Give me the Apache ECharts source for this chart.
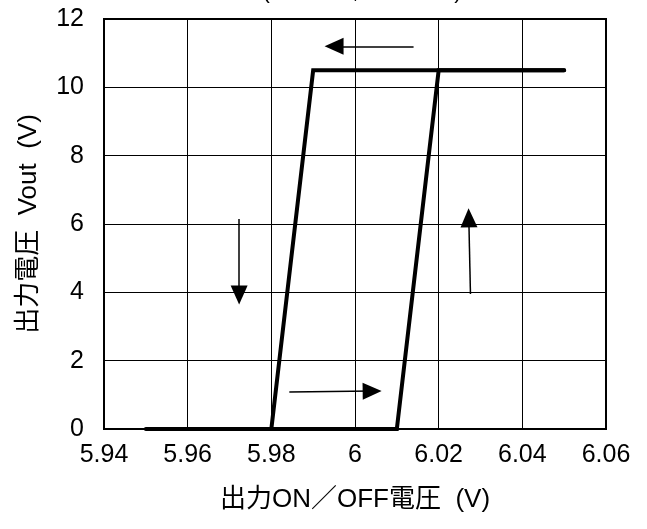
<!DOCTYPE html>
<html>
<head>
<meta charset="utf-8">
<script src="https://cdn.jsdelivr.net/npm/echarts@6/dist/echarts.min.js"></script>
<style>
html,body{margin:0;padding:0;background:#fff;}
#chart{width:647px;height:529px;}
</style>
</head>
<body>
<div id="chart"></div>
<script>
// 出力OFF側 (下降) と ON側 (上昇) のヒステリシス曲線
var offCurveX = [5.95, 5.98, 5.99, 6.05];
var offCurveY = [0, 0, 10.5, 10.5];
var onCurveX = [5.98, 6.01, 6.02, 6.05];
var onCurveY = [0, 0, 10.5, 10.5];
// 矢印 [x1, y1, x2, y2]
var arrows = [
	[6.014, 11.2, 5.995, 11.2],
	[5.9723, 6.15, 5.9723, 3.92],
	[6.0276, 3.95, 6.0272, 6.18],
	[5.9843, 1.08, 6.0041, 1.11]
];
var xTicks = [5.94, 5.96, 5.98, 6, 6.02, 6.04, 6.06];
var yTicks = [0, 2, 4, 6, 8, 10, 12];

function toPairs(xs, ys){
	var out = [];
	for (var i = 0; i < xs.length; i++) out.push([xs[i], ys[i]]);
	return out;
}

var myChart = echarts.init(document.getElementById('chart'));
var font = 'Liberation Sans, Arial, "Noto Sans CJK JP", sans-serif';

var arrowData = arrows.map(function(a){
	return [{coord:[a[0], a[1]], symbol:'none'}, {coord:[a[2], a[3]], symbol:'triangle', symbolSize:[17, 19]}];
});

var option = {
	animation: false,
	backgroundColor: '#fff',
	title: {
		text: '(Ta=25℃,  Vin=12V)',
		left: 357,
		textAlign: 'center',
		top: -24,
		textStyle: {fontFamily: font, fontSize: 22, fontWeight: 'normal', color: '#000'}
	},
	grid: {
		left: 104, right: 41, top: 19, bottom: 100,
		show: true, borderColor: '#000', borderWidth: 2
	},
	xAxis: {
		type: 'value',
		min: xTicks[0], max: xTicks[xTicks.length - 1], interval: 0.02,
		name: '出力ON／OFF電圧  (V)',
		nameLocation: 'middle',
		nameGap: 58,
		nameTextStyle: {fontFamily: font, fontSize: 26, color: '#000'},
		axisLine: {show: true, lineStyle: {color: '#000', width: 2}},
		axisTick: {show: false},
		axisLabel: {
			fontFamily: font, fontSize: 25, color: '#000', margin: 14,
			formatter: function(v){ return String(parseFloat(v.toFixed(2))); }
		},
		splitLine: {show: true, lineStyle: {color: '#000', width: 1}}
	},
	yAxis: {
		type: 'value',
		min: yTicks[0], max: yTicks[yTicks.length - 1], interval: 2,
		name: '出力電圧  Vout  (V)',
		nameLocation: 'middle',
		nameGap: 62,
		nameTextStyle: {fontFamily: font, fontSize: 26, color: '#000'},
		axisLine: {show: true, lineStyle: {color: '#000', width: 2}},
		axisTick: {show: false},
		axisLabel: {fontFamily: font, fontSize: 25, color: '#000', margin: 20},
		splitLine: {show: true, lineStyle: {color: '#000', width: 1}}
	},
	series: [
		{
			type: 'line',
			data: toPairs(offCurveX, offCurveY),
			symbol: 'none',
			lineStyle: {color: '#000', width: 4, cap: 'round', join: 'miter'},
			z: 3
		},
		{
			type: 'line',
			data: toPairs(onCurveX, onCurveY),
			symbol: 'none',
			lineStyle: {color: '#000', width: 4, cap: 'round', join: 'miter'},
			z: 3,
			markLine: {
				silent: true,
				animation: false,
				label: {show: false},
				lineStyle: {color: '#000', width: 1.5, type: 'solid'},
				itemStyle: {color: '#000'},
				data: arrowData
			}
		}
	]
};

myChart.setOption(option);
</script>
</body>
</html>
